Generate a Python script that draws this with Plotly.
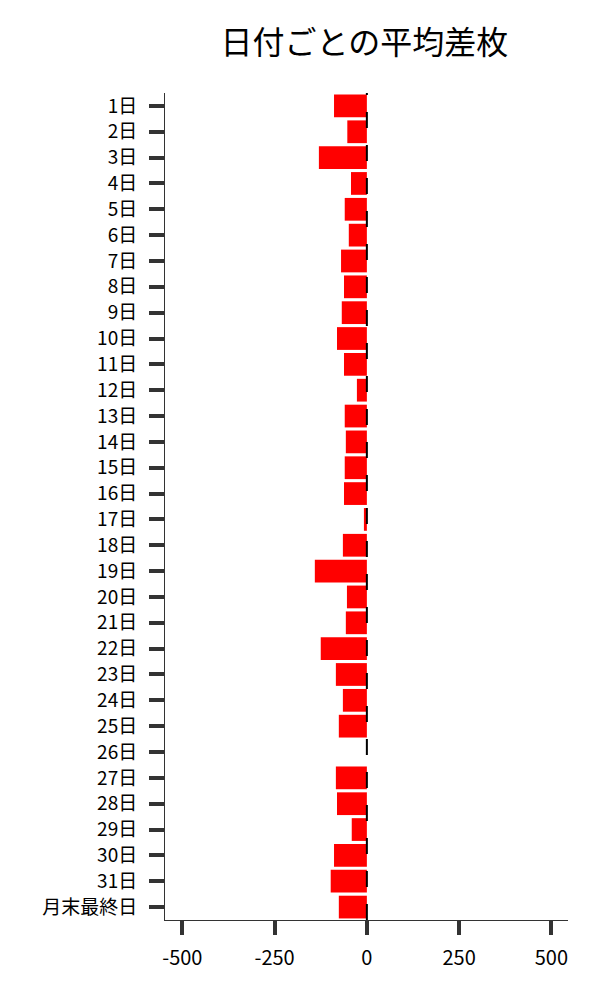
import plotly.graph_objects as go

# 日付ごとの平均差枚
days = [f'{i}日' for i in range(1, 32)] + ['月末最終日']
avg_diff = [-89, -53, -130, -43, -60, -49, -70, -62, -68, -81,
            -62, -27, -60, -57, -60, -62, -8, -65, -141, -54,
            -57, -125, -84, -65, -76, 0, -84, -81, -41, -89,
            -98, -76]

x_ticks = [-500, -250, 0, 250, 500]
x_labels = ['-500', '-250', '0', '250', '500']

font = 'Noto Sans CJK JP'

fig = go.Figure()
fig.add_bar(x=avg_diff, y=days, orientation='h', marker_color='#ff0000',
            marker_line_width=0, width=0.88)

# dashed zero line (drawn bottom -> top so dashes start at the bottom)
fig.add_shape(type='line', xref='x', yref='paper', x0=0, x1=0, y0=0, y1=1,
              line=dict(color='black', width=2, dash='16px,17px'))

fig.update_layout(
    width=600, height=1000,
    paper_bgcolor='white', plot_bgcolor='white',
    margin=dict(l=157, r=40, t=85, b=88, autoexpand=False),
    showlegend=False,
    font=dict(family=font, color='black', size=19),
    title=dict(text='日付ごとの平均差枚', x=0.594, xanchor='center',
               y=0.965, yanchor='middle', font=dict(size=32)),
)
fig.update_xaxes(range=[-547, 545], tickvals=x_ticks, ticktext=x_labels,
                 automargin=False, tickfont=dict(size=20),
                 showgrid=False, zeroline=False, showline=True,
                 linecolor='#333', linewidth=1, ticks='outside',
                 ticklen=14, tickwidth=4, tickcolor='#333',
                 ticklabelstandoff=6)
fig.update_yaxes(autorange='reversed', automargin=False,
                 showgrid=False, zeroline=False,
                 showline=True, linecolor='#333', linewidth=1,
                 ticks='outside', ticklen=15, tickwidth=4, tickcolor='#333',
                 ticklabelstandoff=8)

fig.write_html('out.html')
